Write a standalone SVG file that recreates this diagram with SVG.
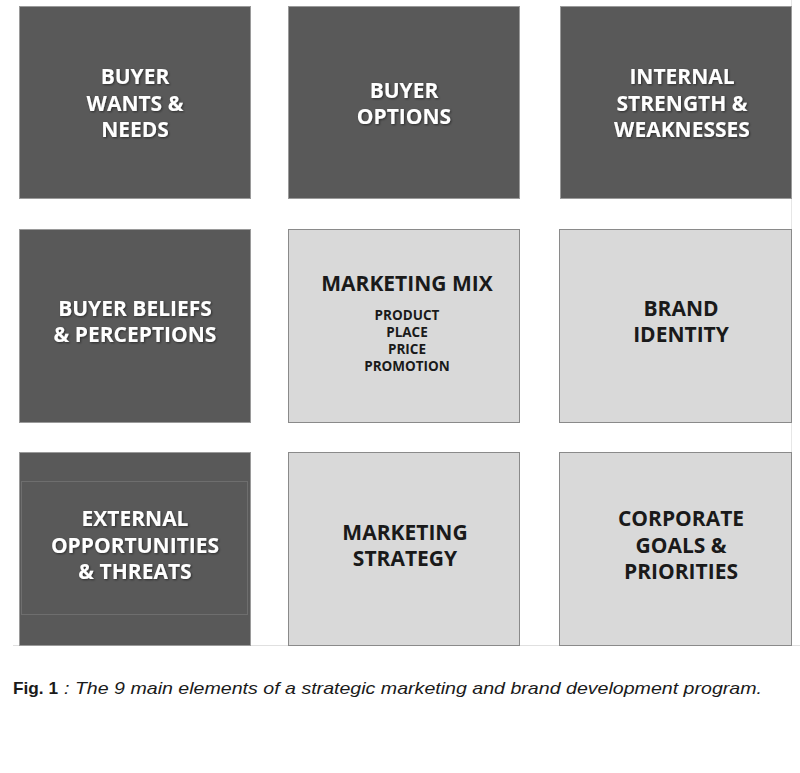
<svg xmlns="http://www.w3.org/2000/svg" width="800" height="773" viewBox="0 0 800 773">
<defs>
<filter id="sh" x="-10%" y="-10%" width="120%" height="130%">
<feDropShadow dx="1" dy="1" stdDeviation="1" flood-color="#000" flood-opacity="0.5"/>
</filter>
<style>
.dark{fill:#595959;stroke:#9a9a9a;stroke-width:1}
.light{fill:#d9d9d9;stroke:#8a8a8a;stroke-width:1}
.wt{font-family:"Open Sans","DejaVu Sans",sans-serif;font-weight:700;font-size:21px;fill:#ffffff;text-anchor:middle;filter:url(#sh)}
.bt{font-family:"Open Sans","DejaVu Sans",sans-serif;font-weight:700;font-size:21px;fill:#1a1a1a;text-anchor:middle}
.st{font-family:"Open Sans","DejaVu Sans",sans-serif;font-weight:700;font-size:13.5px;fill:#1a1a1a;text-anchor:middle}
.cap{font-family:"Liberation Sans",Arial,sans-serif;font-size:17px;fill:#1a1a1a}
</style>
</defs>
<rect width="800" height="773" fill="#ffffff"/>
<line x1="13" y1="645.5" x2="800" y2="645.5" stroke="#e0e0e0" stroke-width="1"/>
<line x1="791.5" y1="0" x2="791.5" y2="645" stroke="#e6e6e6" stroke-width="1"/>
<g id="buyer-wants">
<rect class="dark" x="19.5" y="6.5" width="231" height="192"/>
<text class="wt" x="135" y="84">BUYER</text>
<text class="wt" x="135" y="110.5">WANTS &amp;</text>
<text class="wt" x="135" y="137">NEEDS</text>
</g>
<g id="buyer-options">
<rect class="dark" x="288.5" y="6.5" width="231" height="192"/>
<text class="wt" x="404" y="97.5">BUYER</text>
<text class="wt" x="404" y="124">OPTIONS</text>
</g>
<g id="internal">
<rect class="dark" x="560.5" y="6.5" width="231" height="192"/>
<text class="wt" x="682" y="84">INTERNAL</text>
<text class="wt" x="682" y="110.5">STRENGTH &amp;</text>
<text class="wt" x="682" y="137">WEAKNESSES</text>
</g>
<g id="buyer-beliefs">
<rect class="dark" x="19.5" y="229.5" width="231" height="193"/>
<text class="wt" x="135" y="315.5">BUYER BELIEFS</text>
<text class="wt" x="135" y="342">&amp; PERCEPTIONS</text>
</g>
<g id="marketing-mix">
<rect class="light" x="288.5" y="229.5" width="231" height="193"/>
<text class="bt" x="407" y="291">MARKETING MIX</text>
<text class="st" x="407" y="320">PRODUCT</text>
<text class="st" x="407" y="337">PLACE</text>
<text class="st" x="407" y="354">PRICE</text>
<text class="st" x="407" y="371">PROMOTION</text>
</g>
<g id="brand-identity">
<rect class="light" x="559.5" y="229.5" width="232" height="193"/>
<text class="bt" x="681" y="315.5">BRAND</text>
<text class="bt" x="681" y="342">IDENTITY</text>
</g>
<g id="external">
<rect class="dark" x="19.5" y="452.5" width="231" height="193"/>
<rect x="21.5" y="481.5" width="226" height="133" fill="none" stroke="#6e6e6e" stroke-width="1"/>
<text class="wt" x="135" y="526">EXTERNAL</text>
<text class="wt" x="135" y="552.5">OPPORTUNITIES</text>
<text class="wt" x="135" y="579">&amp; THREATS</text>
</g>
<g id="marketing-strategy">
<rect class="light" x="288.5" y="452.5" width="231" height="193"/>
<text class="bt" x="405" y="539.5">MARKETING</text>
<text class="bt" x="405" y="566">STRATEGY</text>
</g>
<g id="corporate-goals">
<rect class="light" x="559.5" y="452.5" width="232" height="193"/>
<text class="bt" x="681" y="526">CORPORATE</text>
<text class="bt" x="681" y="552.5">GOALS &amp;</text>
<text class="bt" x="681" y="579">PRIORITIES</text>
</g>
<g id="connectors"></g>
<text class="cap" x="13" y="694" font-weight="700" textLength="45" lengthAdjust="spacingAndGlyphs">Fig. 1</text>
<text class="cap" x="64" y="694" font-style="italic" textLength="698" lengthAdjust="spacingAndGlyphs">: The 9 main elements of a strategic marketing and brand development program.</text>
</svg>
